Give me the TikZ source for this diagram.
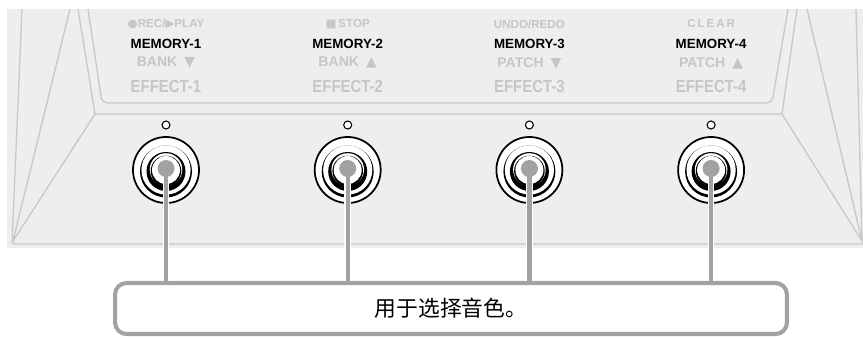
\documentclass[tikz,border=0pt]{standalone}
\usepackage{fontspec}
\usepackage{graphicx}
\setmainfont{Liberation Sans}
\newfontfamily\symfont{DejaVu Sans}
\newfontfamily\cjk{Noto Sans CJK SC}
\usetikzlibrary{positioning, calc}

\definecolor{panel}{HTML}{EEEEEE}
\definecolor{edge}{HTML}{C8C8C8}
\definecolor{faint}{HTML}{C6C6C6}
\definecolor{lead}{HTML}{A2A2A2}

\tikzset{
  edgeline/.style={draw=edge, line width=0.75pt},
  toplabel/.style={font=\fontsize{6.6}{7}\selectfont\bfseries, text=faint, inner sep=0pt},
  memlabel/.style={font=\fontsize{7.6}{8}\selectfont\bfseries, text=black, inner sep=0pt},
  lowlabel/.style={font=\fontsize{8}{9}\selectfont\bfseries, text=faint, inner sep=0pt},
  efflabel/.style={font=\fontsize{10}{11}\selectfont\bfseries, text=faint, inner sep=0pt},
  led/.style={circle, draw=black, fill=white, line width=0.6pt, inner sep=0pt, minimum size=0.16cm},
  halo/.style={draw=white, line width=3.8pt},
  leader/.style={draw=lead, line width=2.4pt},
  msgbox/.style={draw=lead, fill=white, line width=2.3pt, rounded corners=6.5pt,
    minimum width=13.44cm, minimum height=1.02cm, font=\cjk\fontsize{12.4}{13}\selectfont}
}

\newcommand{\narrow}[1]{\scalebox{0.85}[1]{#1}}

\begin{document}
\begin{tikzpicture}[x=0.02cm, y=-0.02cm]
    \useasboundingbox (0,0) rectangle (863,338);
    % Pedal panel
    \fill[panel] (7,9) rectangle (863,248);
    \draw[edgeline, rounded corners=2pt] (22,9) -- (12,244) -- (863,244);
    \draw[edgeline] (70,9) -- (13,241) -- (95,114) -- (78,9);
    \draw[edgeline] (95,114) -- (782,114) -- (797,9);
    \draw[edgeline] (782,114) -- (862,241) -- (807,9);
    \draw[edgeline] (862,241) -- (856,9);
    \draw[edgeline, rounded corners=3pt] (88,9) -- (102,103) -- (772,103) -- (788,9);
    % Labels above the switches
    \node[toplabel] (top1) at (166,24) {{\symfont●}REC/{\symfont▶}PLAY};
    \node[toplabel] (top2) at (347.7,24) {{\symfont■}\,STOP};
    \node[toplabel] (top3) at (529.4,24) {UNDO/REDO};
    \node[toplabel] (top4) at (711.1,24) {C\,L\,E\,A\,R};
    \foreach \i/\low/\arr in {1/BANK/▼, 2/BANK/▲, 3/PATCH/▼, 4/PATCH/▲}{
        \pgfmathsetmacro{\x}{166+181.7*(\i-1)}
        \node[memlabel] (mem\i) at (\x,44) {MEMORY-\i};
        \node[lowlabel] (low\i) at (\x,63) {\low\enspace{\symfont\arr}};
        \node[efflabel] (eff\i) at (\x,86) {\narrow{EFFECT-\i}};
    }
    % Message box
    \node[msgbox] (msg) at (451,308.5) {用于选择音色。};
    % Footswitches and leaders
    \foreach \i in {1,...,4}{
        \pgfmathsetmacro{\x}{166+181.7*(\i-1)}
        \node[led] (led\i) at (\x,125) {};
        \coordinate (sw\i) at (\x,170);
        \coordinate (dot\i) at (\x,168.5);
        \filldraw[fill=white, draw=black, line width=1pt] (sw\i) circle (33);
        \fill[black] ($(sw\i)+(0,1.5)$) circle (26);
        \fill[white] (sw\i) circle (24.6);
        \fill[black] ($(sw\i)+(0,1.5)$) circle (19.5);
        \fill[white] ($(sw\i)+(0,-0.5)$) circle (16.3);
        \fill[black] ($(sw\i)+(0,1)$) circle (15.3);
        \fill[white] (sw\i) circle (14);
        \draw[halo] (dot\i) -- (dot\i |- msg.north);
        \draw[leader] (dot\i) -- (dot\i |- msg.north);
        \fill[lead] (dot\i) circle (8.5);
    }
\end{tikzpicture}
\end{document}
